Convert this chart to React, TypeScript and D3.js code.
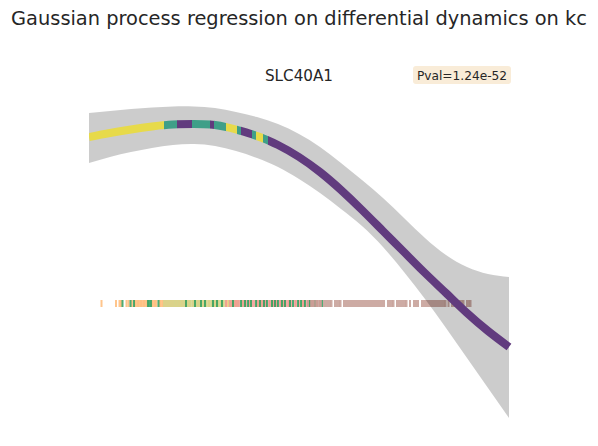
import * as d3 from 'd3';

// GP fit evaluated on a pseudotime grid
const pseudotime = [0, 2.1, 4.2, 6.3, 8.4, 10.5, 12.6, 14.7, 16.8, 18.9, 21, 23.1, 25.2, 27.3, 29.4, 31.5, 33.6, 35.7, 37.8, 39.9, 42];
const gpMean = [1.65, 1.69, 1.725, 1.755, 1.775, 1.78, 1.77, 1.725, 1.66, 1.57, 1.45, 1.3, 1.12, 0.92, 0.71, 0.5, 0.29, 0.09, -0.11, -0.29, -0.45];
const gpUpper = [1.89, 1.91, 1.93, 1.945, 1.955, 1.955, 1.94, 1.9, 1.85, 1.78, 1.68, 1.55, 1.39, 1.22, 1.04, 0.84, 0.64, 0.47, 0.35, 0.28, 0.25];
const gpLower = [1.39, 1.45, 1.5, 1.54, 1.57, 1.58, 1.56, 1.51, 1.44, 1.35, 1.23, 1.09, 0.93, 0.76, 0.55, 0.3, 0.03, -0.26, -0.56, -0.86, -1.16];

// cluster along the mean curve (start, end, cluster)
const segStart = [0, 7.5, 8.8, 10.3, 12.1, 12.5, 13.7, 14.8, 15.2, 16.3, 16.7, 17.4, 17.9];
const segEnd = [7.5, 8.8, 10.3, 12.1, 12.5, 13.7, 14.8, 15.2, 16.3, 16.7, 17.4, 17.9, 42];
const segCluster = ['y', 't', 'p', 't', 'p', 't', 'y', 't', 'p', 't', 'y', 't', 'p'];
const curveColors: Record<string, string> = { y: '#e7da4a', t: '#3f9f88', p: '#613b7e' };

// rug of cells by cell type
const rugOrange = [1.25, 2.7, 3.05, 3.2, 3.75, 3.95, 4.3, 4.6, 4.75, 4.9, 5.05, 5.2, 5.35, 5.5, 5.65, 5.8, 6.3, 6.45, 6.6, 6.75, 7.1, 7.25, 7.4, 7.6, 7.8, 8.0, 8.2, 8.4, 8.7, 9.0, 9.3, 9.6, 10.0, 10.4, 10.9, 11.4, 12.0, 12.6, 13.2, 13.9, 14.7];
const rugOlive = [7.5, 7.7, 7.9, 8.1, 8.3, 8.5, 8.6, 8.8, 8.9, 9.1, 9.2, 9.4, 9.5, 9.8, 9.9, 10.1, 10.2, 10.4, 10.5, 10.7, 10.8, 11.0, 11.1, 11.3, 11.5, 11.7, 11.8, 12.0, 12.2, 12.3, 12.5, 12.7, 12.9, 13.0, 13.2, 13.4, 13.5, 13.7, 14.0, 14.2, 14.5, 14.9, 15.3, 15.5, 16.1, 16.9, 17.3, 18.3, 19.4, 21.3];
const rugGreen = [3.35, 4.15, 4.5, 5.9, 6.05, 6.2, 6.95, 9.7, 10.6, 11.2, 11.6, 12.4, 12.8, 13.3, 14.4, 15.2, 15.6, 15.9, 16.2, 16.7, 17.1, 17.5, 17.8, 18.3, 18.6, 18.9, 19.3, 19.6, 20.1, 20.4, 20.9, 21.2, 21.6, 22.1, 22.6, 23.3];
const rugPink = [13.7, 14.1, 14.3, 14.6, 14.8, 15.0, 15.4, 15.7, 16.0, 16.3, 16.5, 16.8, 17.0, 17.2, 17.4, 17.6, 17.7, 18.0, 18.1, 18.4, 18.5, 18.7, 18.8, 19.1, 19.2, 19.5, 19.7, 19.9, 20.0, 20.2, 20.6, 20.7, 21.0, 21.4, 21.5, 21.8, 22.0, 22.3, 22.5, 22.8, 23.1];
const rugBrown = [21.9, 22.2, 22.4, 22.6, 22.8, 23.0, 23.2, 23.5, 23.7, 23.9, 24.1, 24.25, 24.6, 24.8, 25.0, 25.15, 25.5, 25.7, 25.9, 26.1, 26.3, 26.5, 26.7, 26.9, 27.1, 27.3, 27.5, 27.7, 27.9, 28.1, 28.3, 28.5, 28.7, 28.9, 29.1, 29.3, 29.5, 29.9, 30.1, 30.3, 30.45, 30.8, 31.0, 31.2, 31.4, 31.6, 31.75, 32.1, 32.5, 32.7, 32.9, 33.3, 33.5, 33.7, 33.9, 34.1, 34.3, 34.5, 34.7, 34.9, 35.1, 35.3, 35.5, 35.65, 35.95, 36.3, 36.5, 36.7, 36.9, 37.1, 37.3, 37.45, 37.8, 38.0, 38.15];
const rugLevel = -0.015;

const title = 'Gaussian process regression on differential dynamics on kc';
const gene = 'SLC40A1';
const pval = 'Pval=1.24e-52';

export default function App() {
  const width = 598;
  const height = 446;

  const x = d3.scaleLinear().domain([0, 42]).range([89, 509]);
  const y = d3.scaleLinear().domain([-1.16, 1.96]).range([418, 106]);

  const idx = d3.range(pseudotime.length);
  const area = d3
    .area<number>()
    .x((i) => x(pseudotime[i]))
    .y0((i) => y(gpLower[i]))
    .y1((i) => y(gpUpper[i]))
    .curve(d3.curveNatural);
  const line = d3
    .line<number>()
    .x((i) => x(pseudotime[i]))
    .y((i) => y(gpMean[i]))
    .curve(d3.curveNatural);
  const meanPath = line(idx) || '';

  const rugs = [
    { vals: rugOrange, color: '#ffbb78' },
    { vals: rugOlive, color: '#d5d48a' },
    { vals: rugPink, color: '#f09a92' },
    { vals: rugGreen, color: '#2f9e5c' },
    { vals: rugBrown, color: '#c49c94' },
  ];
  const ry = y(rugLevel);

  return (
    <svg
      width={width}
      height={height}
      style={{ position: 'absolute', left: 0, top: 0, background: '#fff' }}
      fontFamily="DejaVu Sans"
    >
      <defs>
        {segStart.map((s, i) => (
          <clipPath id={`seg${i}`} key={i}>
            <rect x={x(s)} y={0} width={x(segEnd[i]) - x(s) + (i === segStart.length - 1 ? 6 : 0.3)} height={height} />
          </clipPath>
        ))}
      </defs>
      <text x={299} y={25} textAnchor="middle" fontSize={19.4} fill="#262626">
        {title}
      </text>
      <text x={299} y={81} textAnchor="middle" fontSize={15.2} fill="#262626">
        {gene}
      </text>
      <rect x={413} y={66} width={98} height={18} rx={3} fill="#f9ecd8" />
      <text x={462} y={79.5} textAnchor="middle" fontSize={12.2} fill="#262626">
        {pval}
      </text>

      <g>
        {rugs.map((r) =>
          r.vals.map((v, j) => (
            <rect key={r.color + j} x={x(v) - 1} y={ry - 3.5} width={2} height={7} fill={r.color} opacity={0.85} />
          ))
        )}
      </g>

      <path d={area(idx) || ''} fill="#000" opacity={0.2} />

      {segStart.map((s, i) => (
        <path
          key={i}
          d={meanPath}
          fill="none"
          stroke={curveColors[segCluster[i]]}
          strokeWidth={8}
          clipPath={`url(#seg${i})`}
        />
      ))}
    </svg>
  );
}
